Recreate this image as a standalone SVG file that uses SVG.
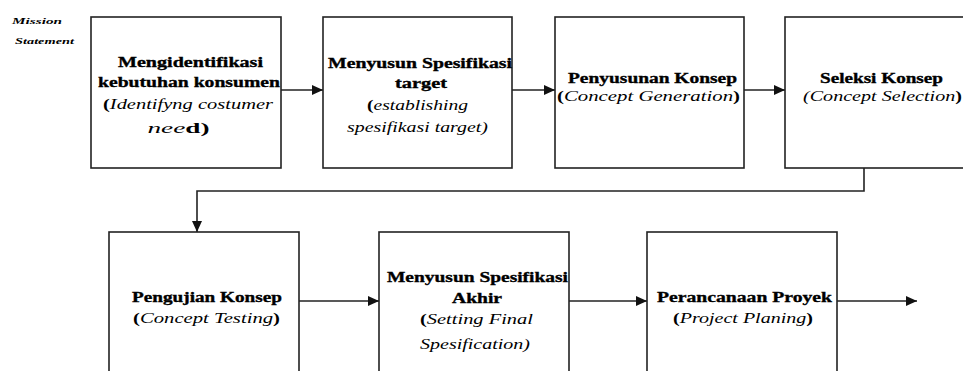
<svg xmlns="http://www.w3.org/2000/svg" width="963" height="371" viewBox="0 0 963 371">
<style>
.box{fill:#fff;stroke:#222;stroke-width:1.6}
.b{font-family:'Liberation Serif','DejaVu Serif','Times New Roman',serif;font-weight:bold;font-size:15px;fill:#000;stroke:#000;stroke-width:0.35}
.i{font-family:'Liberation Serif','DejaVu Serif','Times New Roman',serif;font-style:italic;font-size:15px;fill:#000}
.pb{font-style:normal;font-weight:bold}
.ms{font-family:'Liberation Serif','DejaVu Serif','Times New Roman',serif;font-style:italic;font-weight:bold;font-size:9px;fill:#000}
.con{fill:none;stroke:#222;stroke-width:1.6}
</style>
<defs>
<marker id="ah" markerWidth="11" markerHeight="10" refX="11" refY="5" orient="auto" markerUnits="userSpaceOnUse">
<path d="M0,0 L11,5 L0,10 z" fill="#111"/>
</marker>
</defs>
<rect width="963" height="371" fill="#fff"/>
<g id="mission">
<text class="ms" x="12" y="24" textLength="50" lengthAdjust="spacingAndGlyphs">Mission</text>
<text class="ms" x="15" y="44" textLength="59" lengthAdjust="spacingAndGlyphs">Statement</text>
</g>
<g id="connectors">
<line class="con" x1="281" y1="90" x2="323" y2="90" marker-end="url(#ah)"/>
<line class="con" x1="512" y1="90" x2="555" y2="90" marker-end="url(#ah)"/>
<line class="con" x1="744" y1="90" x2="785" y2="90" marker-end="url(#ah)"/>
<polyline class="con" points="864,168 864,191 197,191 197,232" marker-end="url(#ah)"/>
<line class="con" x1="299" y1="301" x2="379" y2="301" marker-end="url(#ah)"/>
<line class="con" x1="569" y1="301" x2="647" y2="301" marker-end="url(#ah)"/>
<line class="con" x1="837" y1="301" x2="917" y2="301" marker-end="url(#ah)"/>
</g>
<g id="n1">
<rect class="box" x="91" y="17" width="190" height="151"/>
<text class="b" x="190.5" y="67" text-anchor="middle" textLength="145" lengthAdjust="spacingAndGlyphs">Mengidentifikasi</text>
<text class="b" x="189" y="87" text-anchor="middle" textLength="182" lengthAdjust="spacingAndGlyphs">kebutuhan konsumen</text>
<text class="i" x="188" y="109" text-anchor="middle" textLength="170" lengthAdjust="spacingAndGlyphs"><tspan class="pb">(</tspan>Identifyng costumer</text>
<text class="i" x="178.5" y="133" text-anchor="middle" textLength="62" lengthAdjust="spacingAndGlyphs">nee<tspan class="pb">d)</tspan></text>
</g>
<g id="n2">
<rect class="box" x="323" y="17" width="189" height="151"/>
<text class="b" x="420" y="68" text-anchor="middle" textLength="184" lengthAdjust="spacingAndGlyphs">Menyusun Spesifikasi</text>
<text class="b" x="421" y="88" text-anchor="middle" textLength="52" lengthAdjust="spacingAndGlyphs">target</text>
<text class="i" x="417.5" y="110" text-anchor="middle" textLength="101" lengthAdjust="spacingAndGlyphs"><tspan class="pb">(</tspan>establishing</text>
<text class="i" x="417.5" y="132" text-anchor="middle" textLength="141" lengthAdjust="spacingAndGlyphs">spesifikasi target)</text>
</g>
<g id="n3">
<rect class="box" x="555" y="17" width="189" height="151"/>
<text class="b" x="652.5" y="83" text-anchor="middle" textLength="169" lengthAdjust="spacingAndGlyphs">Penyusunan Konsep</text>
<text class="i" x="648.5" y="101" text-anchor="middle" textLength="183" lengthAdjust="spacingAndGlyphs"><tspan class="pb">(</tspan>Concept Generation<tspan class="pb">)</tspan></text>
</g>
<g id="n4">
<rect class="box" x="785" y="17" width="190" height="151"/>
<text class="b" x="881.5" y="83" text-anchor="middle" textLength="123" lengthAdjust="spacingAndGlyphs">Seleksi Konsep</text>
<text class="i" x="882.5" y="101" text-anchor="middle" textLength="159" lengthAdjust="spacingAndGlyphs">(Concept Selection<tspan class="pb">)</tspan></text>
</g>
<g id="n5">
<rect class="box" x="109" y="232" width="190" height="151"/>
<text class="b" x="207" y="302" text-anchor="middle" textLength="150" lengthAdjust="spacingAndGlyphs">Pengujian Konsep</text>
<text class="i" x="206.5" y="323" text-anchor="middle" textLength="147" lengthAdjust="spacingAndGlyphs"><tspan class="pb">(</tspan>Concept Testing<tspan class="pb">)</tspan></text>
</g>
<g id="n6">
<rect class="box" x="379" y="232" width="190" height="151"/>
<text class="b" x="477.5" y="282" text-anchor="middle" textLength="181" lengthAdjust="spacingAndGlyphs">Menyusun Spesifikasi</text>
<text class="b" x="477" y="303" text-anchor="middle" textLength="50" lengthAdjust="spacingAndGlyphs">Akhir</text>
<text class="i" x="476.5" y="324" text-anchor="middle" textLength="113" lengthAdjust="spacingAndGlyphs"><tspan class="pb">(</tspan>Setting Final</text>
<text class="i" x="475" y="349" text-anchor="middle" textLength="110" lengthAdjust="spacingAndGlyphs">Spesification)</text>
</g>
<g id="n7">
<rect class="box" x="647" y="232" width="190" height="151"/>
<text class="b" x="744.5" y="302" text-anchor="middle" textLength="175" lengthAdjust="spacingAndGlyphs">Perancanaan Proyek</text>
<text class="i" x="743" y="323" text-anchor="middle" textLength="140" lengthAdjust="spacingAndGlyphs"><tspan class="pb">(</tspan>Project Planing<tspan class="pb">)</tspan></text>
</g>
</svg>
